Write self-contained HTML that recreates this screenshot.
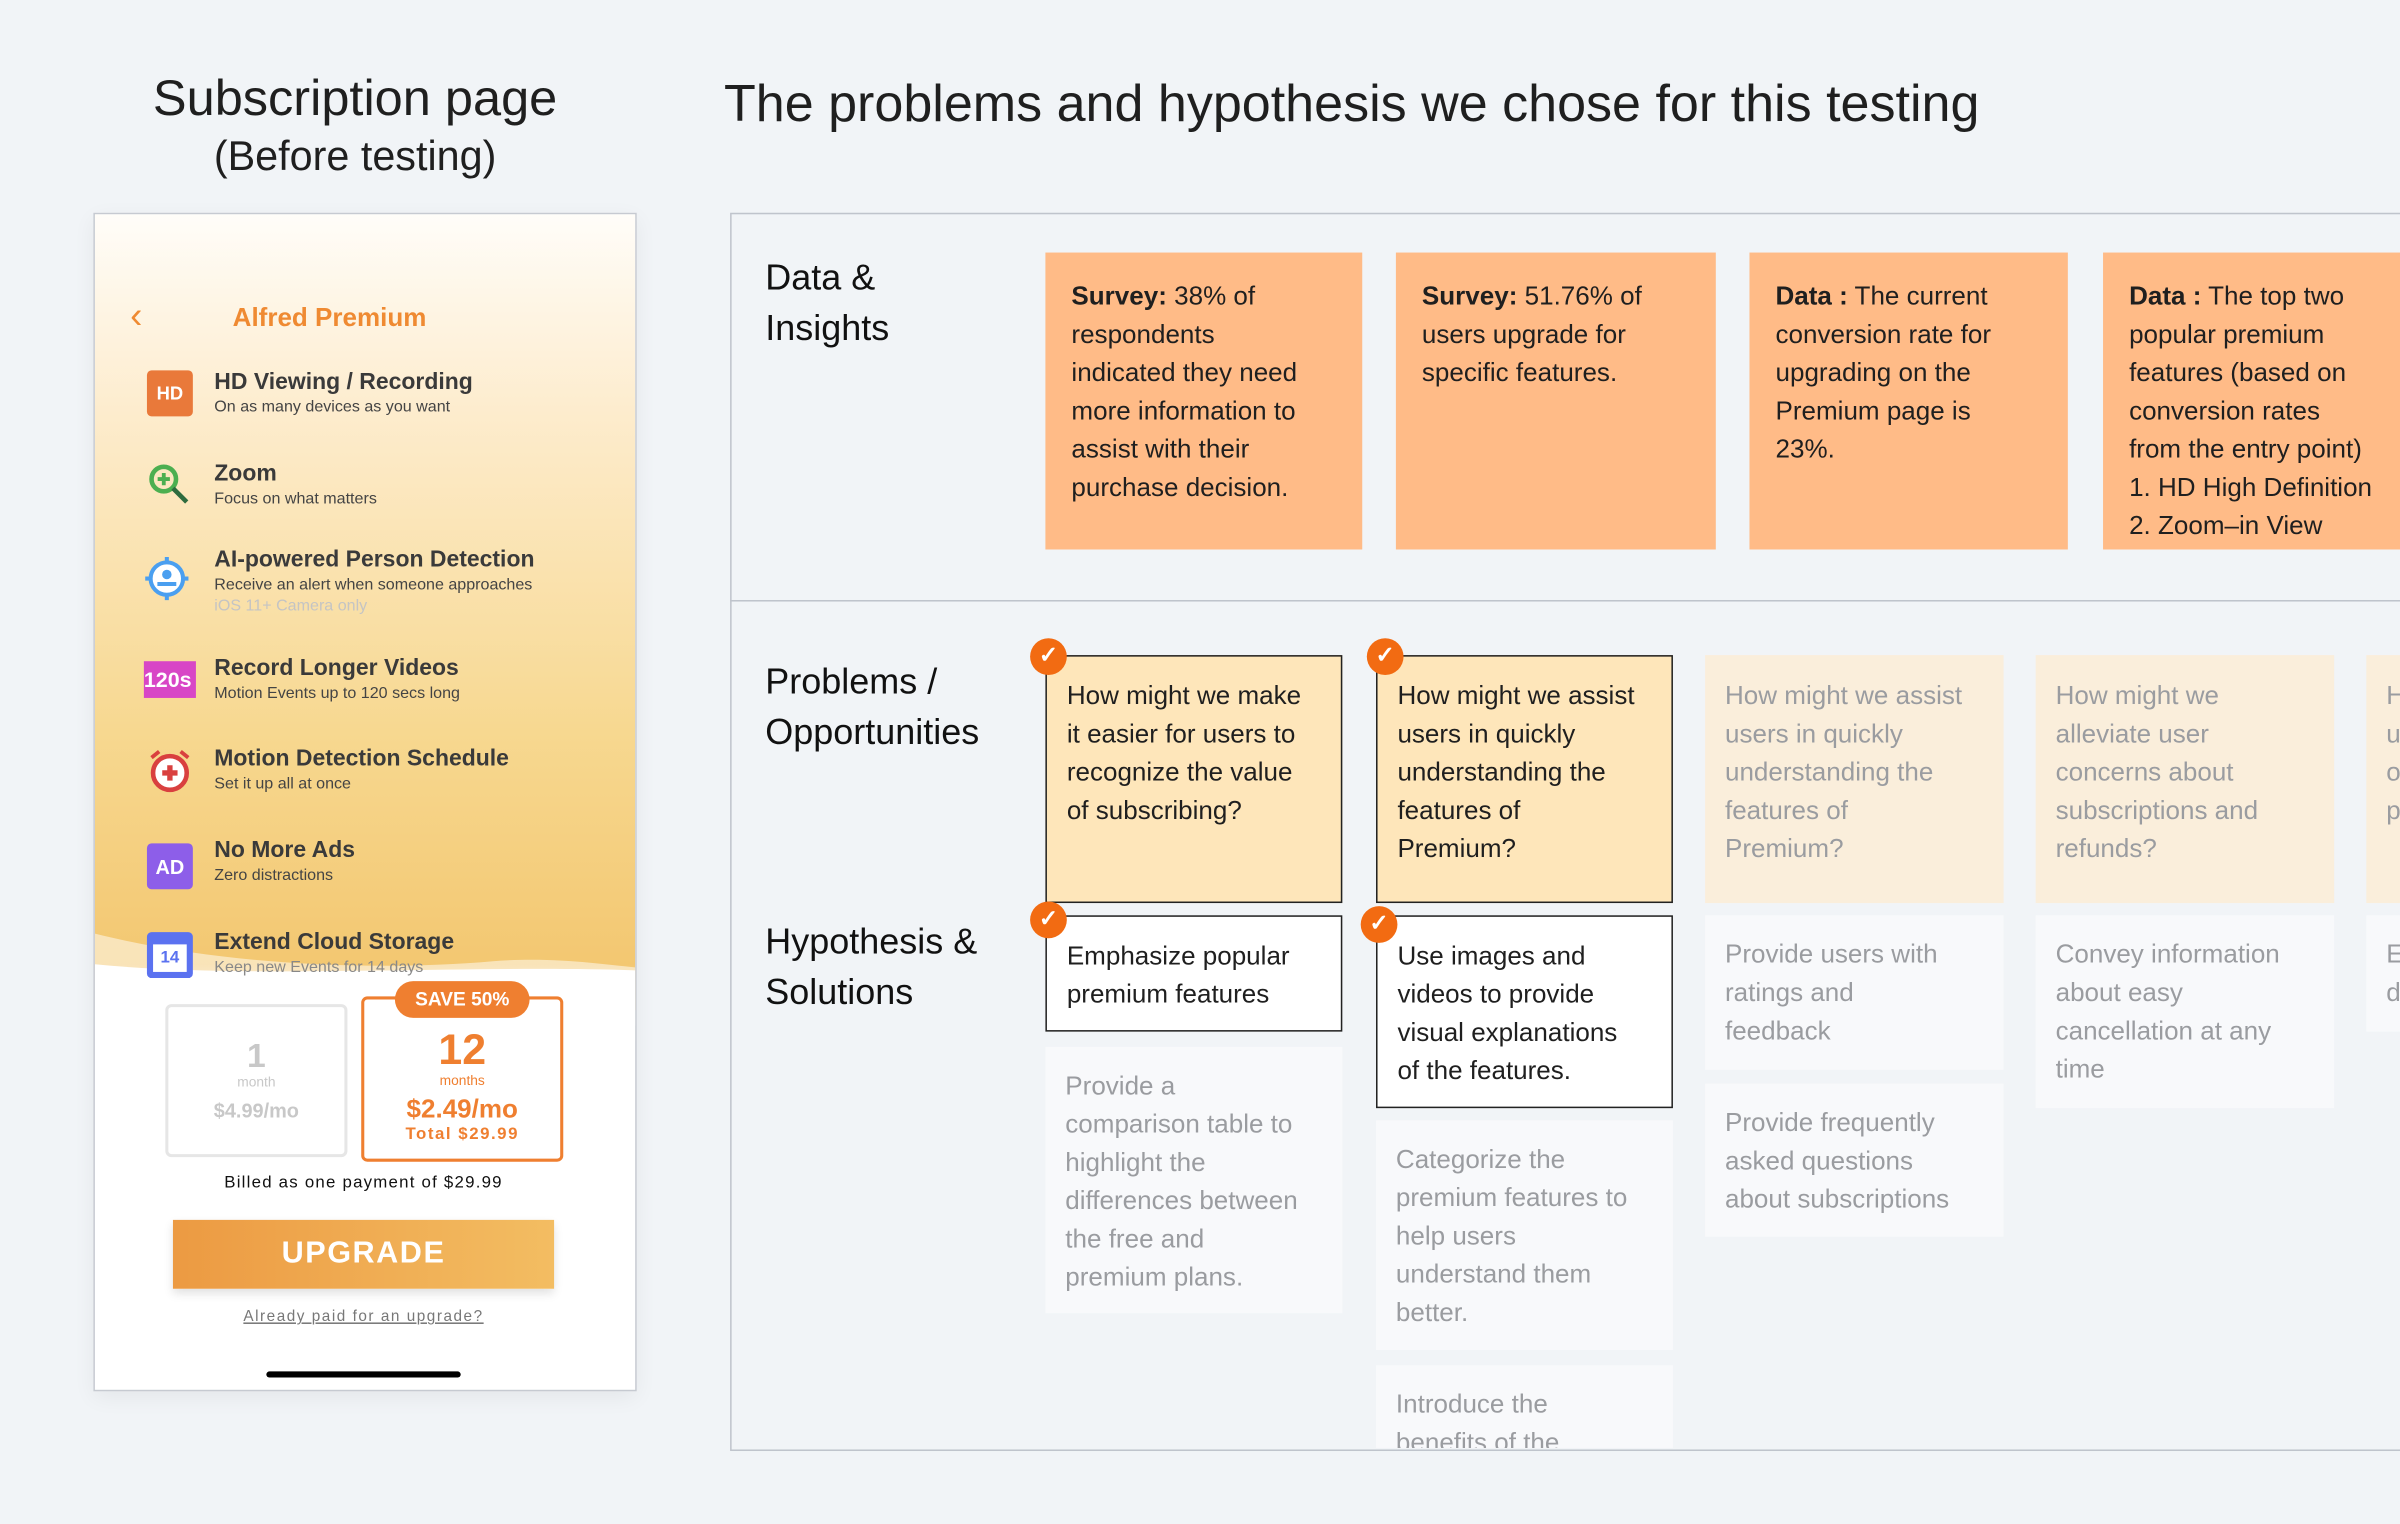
<!DOCTYPE html>
<html><head><meta charset="utf-8"><style>
html,body{margin:0;padding:0;background:#f1f4f7;overflow:hidden}
#w{width:1568px;height:996px;position:relative;transform:scale(1.5306);transform-origin:0 0;font-family:"Liberation Sans",sans-serif;color:#1f1f1f}
.a{position:absolute}
.card{position:absolute;box-sizing:border-box;padding:13px 0 0 13px;font-size:17px;line-height:25px;white-space:nowrap;overflow:hidden}
.or{background:#ffbb87;padding:16px 0 0 17px}
.pa{background:#fee6ba;border:1.5px solid #222}
.wh{background:#fff;border:1.5px solid #222}
.fp{background:#faeedb;color:#9a9ca0;padding-top:14px;padding-left:13px}
.fg{background:#f8f9fb;color:#9a9ca0;padding-left:13px}
.lab{position:absolute;font-size:23.5px;line-height:33px;color:#111}
.chk{position:absolute;width:24px;height:24px;border-radius:50%;background:#f26b12;color:#fff;font-size:15px;line-height:24px;text-align:center;font-weight:bold}
.ft{position:absolute;left:140px;color:#333}
.ft b{display:block;font-size:15px;line-height:18px;color:#3a3a3a}
.ft span{display:block;font-size:10.5px;line-height:14px;color:#444}
.ic{position:absolute;left:96px;width:30px;height:30px}
</style></head><body><div id="w">
<div class="a" style="left:40px;top:43px;width:384px;text-align:center;font-size:33px;line-height:42px">Subscription page</div>
<div class="a" style="left:40px;top:84px;width:384px;text-align:center;font-size:27px;line-height:36px">(Before testing)</div>
<div class="a" style="left:473px;top:46px;font-size:34px;line-height:44px">The problems and hypothesis we chose for this testing</div>

<div class="a" style="left:61px;top:139px;width:353px;height:768px;border:1px solid #c6cad1;background:#fff;overflow:hidden;box-shadow:0 4px 14px rgba(0,0,0,0.06)">
 <div class="a" style="left:0;top:0;width:353px;height:520px;background:linear-gradient(#fffdf9 0%,#fdeccd 25%,#f7d890 65%,#f2c46b 100%)"></div>
 <svg class="a" style="left:0;top:460px" width="353" height="80"><path d="M0 10 C80 30,180 35,260 28 C300 25,330 30,353 32 L353 80 L0 80Z" fill="#fff" opacity="0.5"/><path d="M0 30 C100 40,250 30,353 34 L353 80 L0 80Z" fill="#fff"/></svg>
 <div class="a" style="left:0;top:490px;width:353px;height:40px;background:linear-gradient(rgba(255,255,255,0),#fff)"></div>
</div>
<div class="a" style="left:85px;top:193px;color:#ef8a32;font-size:24px">&#8249;</div>
<div class="a" style="left:152px;top:198px;color:#ef8a32;font-size:17px;font-weight:bold">Alfred Premium</div>
<div class="ic" style="top:242px;background:#e9793a;border-radius:3px;color:#fff;font-size:12px;font-weight:bold;line-height:30px;text-align:center">HD</div>
<div class="ft" style="top:241px"><b>HD Viewing / Recording</b><span>On as many devices as you want</span></div>
<svg class="ic" style="top:302px" viewBox="0 0 30 30"><circle cx="11" cy="11" r="8" fill="none" stroke="#4caf50" stroke-width="3"/><path d="M7 11h8M11 7v8" stroke="#4caf50" stroke-width="2.5"/><path d="M17 17l9 9" stroke="#2e6b3e" stroke-width="3"/></svg>
<div class="ft" style="top:301px"><b>Zoom</b><span>Focus on what matters</span></div>
<svg class="ic" style="top:363px;left:94px" viewBox="0 0 34 34"><circle cx="17" cy="17" r="12" fill="#fff" stroke="#4a9ff0" stroke-width="3"/><circle cx="17" cy="14" r="3.5" fill="#4a9ff0"/><path d="M10 21h14" stroke="#4a9ff0" stroke-width="3"/><path d="M17 1v4M17 29v4M1 17h4M29 17h4" stroke="#4a9ff0" stroke-width="3"/></svg>
<div class="ft" style="top:357px"><b>AI-powered Person Detection</b><span>Receive an alert when someone approaches</span><span style="color:#c4c4c4">iOS 11+ Camera only</span></div>
<div class="ic" style="top:432px;left:94px;width:34px;height:24px;background:#d846c6;color:#fff;font-size:14px;line-height:24px;font-weight:bold">120s</div>
<div class="ft" style="top:428px"><b>Record Longer Videos</b><span>Motion Events up to 120 secs long</span></div>
<svg class="ic" style="top:489px" viewBox="0 0 30 30"><circle cx="15" cy="16" r="11" fill="#fff" stroke="#d9403f" stroke-width="3"/><path d="M10 16h10M15 11v10" stroke="#d9403f" stroke-width="3.5"/><path d="M3 6l5-4M27 6l-5-4" stroke="#d9403f" stroke-width="2.5"/></svg>
<div class="ft" style="top:487px"><b>Motion Detection Schedule</b><span>Set it up all at once</span></div>
<div class="ic" style="top:551px;background:#8d5ee9;border-radius:3px;color:#fff;font-size:13px;font-weight:bold;line-height:32px;text-align:center">AD</div>
<div class="ft" style="top:547px"><b>No More Ads</b><span>Zero distractions</span></div>
<div class="ic" style="top:609px;background:#5b72f0;border-radius:3px"><div class="a" style="left:4px;top:8px;width:22px;height:18px;background:#fff;color:#5b72f0;font-size:11px;font-weight:bold;text-align:center;line-height:18px">14</div></div>
<div class="ft" style="top:607px"><b>Extend Cloud Storage</b><span style="color:#888">Keep new Events for 14 days</span></div>
<div class="a" style="left:108px;top:656px;width:115px;height:96px;border:2px solid #e6e6e6;border-radius:4px;background:#fff;text-align:center;color:#c8c8c8">
 <div style="font-size:22px;font-weight:bold;margin-top:20px;line-height:24px">1</div><div style="font-size:9px">month</div><div style="font-size:13px;font-weight:bold;margin-top:6px">$4.99/mo</div></div>
<div class="a" style="left:236px;top:651px;width:128px;height:104px;border:2px solid #ef7f30;border-radius:4px;background:#fff;text-align:center;color:#ef7f30">
 <div style="font-size:28px;font-weight:bold;margin-top:18px;line-height:30px">12</div><div style="font-size:9px">months</div><div style="font-size:17px;font-weight:bold;margin-top:4px;line-height:20px">$2.49/mo</div><div style="font-size:11px;font-weight:bold;letter-spacing:1px">Total $29.99</div></div>
<div class="a" style="left:258px;top:641px;width:88px;height:24px;border-radius:12px;background:#ef7f30;color:#fff;font-size:12.5px;font-weight:bold;text-align:center;line-height:24px">SAVE 50%</div>
<div class="a" style="left:61px;top:767px;width:353px;text-align:center;font-size:11px;letter-spacing:0.8px;color:#111">Billed as one payment of $29.99</div>
<div class="a" style="left:113px;top:797px;width:249px;height:45px;background:linear-gradient(90deg,#ec9a42,#f3bd62);color:#fff;font-size:20px;font-weight:bold;text-align:center;line-height:45px;letter-spacing:1px;box-shadow:0 3px 6px rgba(0,0,0,0.12)">UPGRADE</div>
<div class="a" style="left:61px;top:855px;width:353px;text-align:center;font-size:10px;letter-spacing:1px;color:#777;text-decoration:underline">Already paid for an upgrade?</div>
<div class="a" style="left:174px;top:896px;width:127px;height:4px;border-radius:2px;background:#000"></div>

<div class="a" style="left:477px;top:139px;width:1200px;height:807px;border:1px solid #bfc4cc"></div>
<div class="a" style="left:477px;top:392px;width:1100px;height:1px;background:#bfc4cc"></div>
<div class="lab" style="left:500px;top:165px">Data &amp;<br>Insights</div>
<div class="lab" style="left:500px;top:429px">Problems /<br>Opportunities</div>
<div class="lab" style="left:500px;top:599px">Hypothesis &amp;<br>Solutions</div>

<div class="card or" style="left:683px;top:165px;width:207px;height:194px"><b>Survey:</b> 38% of<br>respondents<br>indicated they need<br>more information to<br>assist with their<br>purchase decision.</div>
<div class="card or" style="left:912px;top:165px;width:209px;height:194px"><b>Survey:</b> 51.76% of<br>users upgrade for<br>specific features.</div>
<div class="card or" style="left:1143px;top:165px;width:208px;height:194px"><b>Data :</b> The current<br>conversion rate for<br>upgrading on the<br>Premium page is<br>23%.</div>
<div class="card or" style="left:1374px;top:165px;width:200px;height:194px"><b>Data :</b> The top two<br>popular premium<br>features (based on<br>conversion rates<br>from the entry point)<br>1. HD High Definition<br>2. Zoom–in View</div>

<div class="card pa" style="left:683px;top:428px;width:194px;height:162px">How might we make<br>it easier for users to<br>recognize the value<br>of subscribing?</div>
<div class="card pa" style="left:899px;top:428px;width:194px;height:162px">How might we assist<br>users in quickly<br>understanding the<br>features of<br>Premium?</div>
<div class="card fp" style="left:1114px;top:428px;width:195px;height:162px">How might we assist<br>users in quickly<br>understanding the<br>features of<br>Premium?</div>
<div class="card fp" style="left:1330px;top:428px;width:195px;height:162px">How might we<br>alleviate user<br>concerns about<br>subscriptions and<br>refunds?</div>
<div class="card fp" style="left:1546px;top:428px;width:60px;height:162px">H<br>u<br>o<br>p</div>

<div class="card wh" style="left:683px;top:598px;width:194px;height:76px">Emphasize popular<br>premium features</div>
<div class="card wh" style="left:899px;top:598px;width:194px;height:126px">Use images and<br>videos to provide<br>visual explanations<br>of the features.</div>
<div class="card fg" style="left:683px;top:684px;width:194px;height:174px">Provide a<br>comparison table to<br>highlight the<br>differences between<br>the free and<br>premium plans.</div>
<div class="card fg" style="left:899px;top:732px;width:194px;height:150px">Categorize the<br>premium features to<br>help users<br>understand them<br>better.</div>
<div class="card fg" style="left:899px;top:892px;width:194px;height:54px">Introduce the<br>benefits of the</div>
<div class="card fg" style="left:1114px;top:598px;width:195px;height:101px">Provide users with<br>ratings and<br>feedback</div>
<div class="card fg" style="left:1114px;top:708px;width:195px;height:100px">Provide frequently<br>asked questions<br>about subscriptions</div>
<div class="card fg" style="left:1330px;top:598px;width:195px;height:126px">Convey information<br>about easy<br>cancellation at any<br>time</div>
<div class="card fg" style="left:1546px;top:598px;width:60px;height:76px">E<br>d</div>

<div class="chk" style="left:673px;top:417px">&#10003;</div>
<div class="chk" style="left:893px;top:417px">&#10003;</div>
<div class="chk" style="left:673px;top:589px">&#10003;</div>
<div class="chk" style="left:889px;top:592px">&#10003;</div>
</div></body></html>
